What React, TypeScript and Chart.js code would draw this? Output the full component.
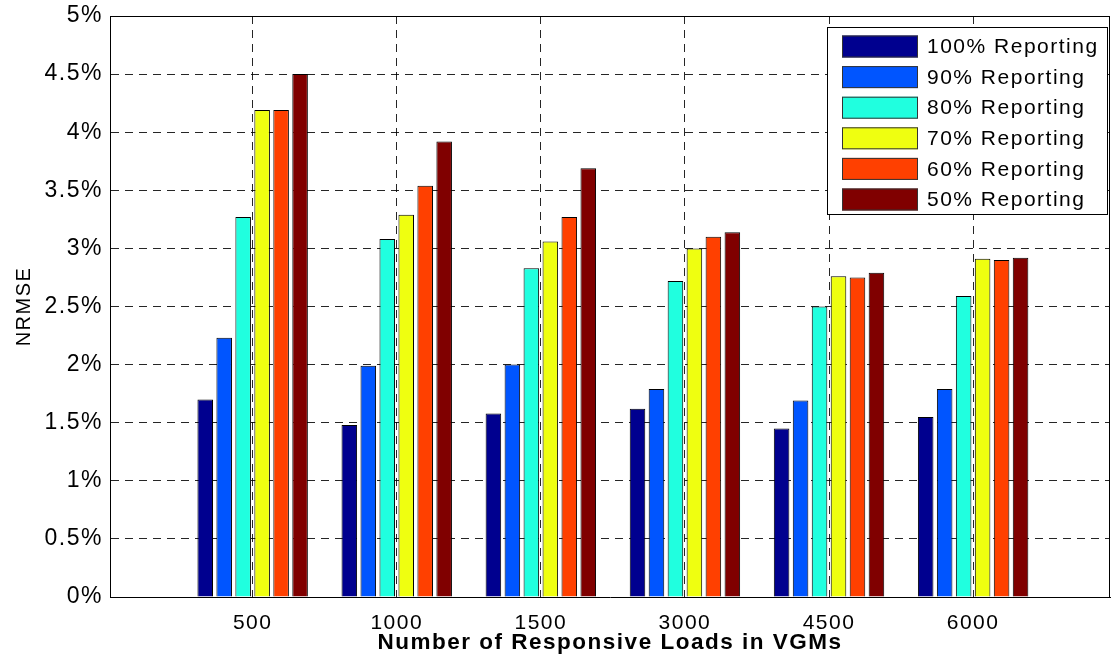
import React, { useEffect, useRef } from 'react';
import { Chart, registerables } from 'chart.js';

Chart.register(...registerables);

// ---- data ----
const categories = ['500', '1000', '1500', '3000', '4500', '6000'];
const seriesNames = [
  '100% Reporting',
  '90% Reporting',
  '80% Reporting',
  '70% Reporting',
  '60% Reporting',
  '50% Reporting',
];
const seriesColors = ['#00008F', '#0055FF', '#20FFDF', '#EFFF10', '#FF4000', '#800000'];
const r100 = [1.7, 1.48, 1.58, 1.62, 1.45, 1.55];
const r90 = [2.23, 1.99, 2.0, 1.79, 1.69, 1.79];
const r80 = [3.27, 3.08, 2.83, 2.72, 2.5, 2.59];
const r70 = [4.19, 3.29, 3.06, 3.0, 2.76, 2.91];
const r60 = [4.19, 3.54, 3.27, 3.1, 2.75, 2.9];
const r50 = [4.5, 3.92, 3.69, 3.14, 2.79, 2.92];
const seriesValues = [r100, r90, r80, r70, r60, r50];
const yTickValues = [0, 0.5, 1, 1.5, 2, 2.5, 3, 3.5, 4, 4.5, 5];
const xTitle = 'Number of Responsive Loads in VGMs';
const yTitle = 'NRMSE';

const FONT = '"Liberation Sans", Arial, Helvetica, sans-serif';

const framePlugin = {
  id: 'frameLegend',
  beforeDraw(chart: any) {
    (chart.ctx as any).letterSpacing = '1.5px';
  },
  afterDraw(chart: any) {
    const { ctx, chartArea: a } = chart;
    ctx.save();
    ctx.strokeStyle = '#000';
    ctx.lineWidth = 1;
    ctx.setLineDash([]);
    ctx.beginPath();
    ctx.moveTo(a.left, a.top + 0.5);
    ctx.lineTo(a.right, a.top + 0.5);
    ctx.moveTo(a.right - 0.5, a.top);
    ctx.lineTo(a.right - 0.5, a.bottom);
    ctx.stroke();

    // legend box inside plot, top-right
    const bw = 281;
    const bh = 188;
    const bx = a.right - bw - 2;
    const by = a.top + 11;
    ctx.fillStyle = '#fff';
    ctx.fillRect(bx, by, bw, bh);
    ctx.strokeRect(bx + 0.5, by + 0.5, bw - 1, bh - 1);
    ctx.font = '21px ' + FONT;
    (ctx as any).letterSpacing = '1.5px';
    ctx.textBaseline = 'middle';
    ctx.textAlign = 'left';
    chart.data.datasets.forEach((ds: any, i: number) => {
      const cy = by + 19.5 + i * 30.6;
      ctx.fillStyle = ds.backgroundColor;
      ctx.fillRect(bx + 15, cy - 11, 76, 22);
      ctx.strokeStyle = '#333';
      ctx.strokeRect(bx + 15.5, cy - 10.5, 75, 21);
      ctx.fillStyle = '#000';
      ctx.fillText(ds.label, bx + 100, cy + 1);
    });
    ctx.restore();
  },
};

export default function App() {
  const ref = useRef<HTMLCanvasElement | null>(null);

  useEffect(() => {
    if (!ref.current) return;
    const chart = new Chart(ref.current, {
      type: 'bar',
      data: {
        datasets: seriesValues.map((vals, si) => ({
          label: seriesNames[si],
          data: vals.map((v, i) => ({ x: i + 1, y: v })),
          backgroundColor: seriesColors[si],
          borderColor: '#000',
          borderWidth: 1,
          categoryPercentage: 0.79,
          barPercentage: 0.82,
        })),
      },
      options: {
        responsive: false,
        animation: false,
        devicePixelRatio: 1,
        layout: { padding: { top: 16, right: 1, left: 0, bottom: 0 } },
        plugins: {
          legend: { display: false },
          tooltip: { enabled: false },
        },
        font: { family: FONT },
        scales: {
          x: {
            type: 'linear',
            min: 0.01,
            max: 6.95,
            offset: false,
            afterFit: (s: any) => {
              s.height = 64;
              s.paddingLeft = 0;
              s.paddingRight = 0;
            },
            afterBuildTicks: (s: any) => {
              s.ticks = categories.map((_, i) => ({ value: i + 1 }));
            },
            ticks: {
              color: '#000',
              font: { family: FONT, size: 21 },
              padding: 14,
              maxRotation: 0,
              autoSkip: false,
              callback: (v: any) => categories[Math.round(Number(v)) - 1] ?? '',
            },
            grid: {
              offset: false,
              drawTicks: false,
              color: 'rgba(0,0,0,0.85)',
              lineWidth: 1,
            },
            border: { display: true, color: '#000', width: 1, dash: [8, 6] },
            title: {
              display: true,
              text: xTitle,
              color: '#000',
              font: { family: FONT, size: 22.5, weight: 'bold' },
              padding: { top: 0, bottom: 5 },
            },
          },
          y: {
            type: 'linear',
            min: 0,
            max: 5,
            afterFit: (s: any) => {
              s.width = 110;
              s.paddingTop = 0;
              s.paddingBottom = 0;
            },
            afterBuildTicks: (s: any) => {
              s.ticks = yTickValues.map((v) => ({ value: v }));
            },
            ticks: {
              color: '#000',
              font: { family: FONT, size: 23 },
              padding: 7,
              callback: (v: any) => v + '%',
            },
            grid: {
              drawTicks: false,
              color: 'rgba(0,0,0,0.85)',
              lineWidth: 1,
            },
            border: { display: true, color: '#000', width: 1, dash: [8, 6] },
            title: {
              display: true,
              text: yTitle,
              color: '#000',
              font: { family: FONT, size: 20 },
              padding: { top: 12, bottom: 0 },
            },
          },
        },
      },
      plugins: [framePlugin],
    } as any);
    return () => chart.destroy();
  }, []);

  return (
    <div style={{ position: 'absolute', left: 0, top: 0, width: 1111, height: 661, background: '#fff' }}>
      <canvas ref={ref} width={1111} height={661} style={{ display: 'block' }} />
    </div>
  );
}
